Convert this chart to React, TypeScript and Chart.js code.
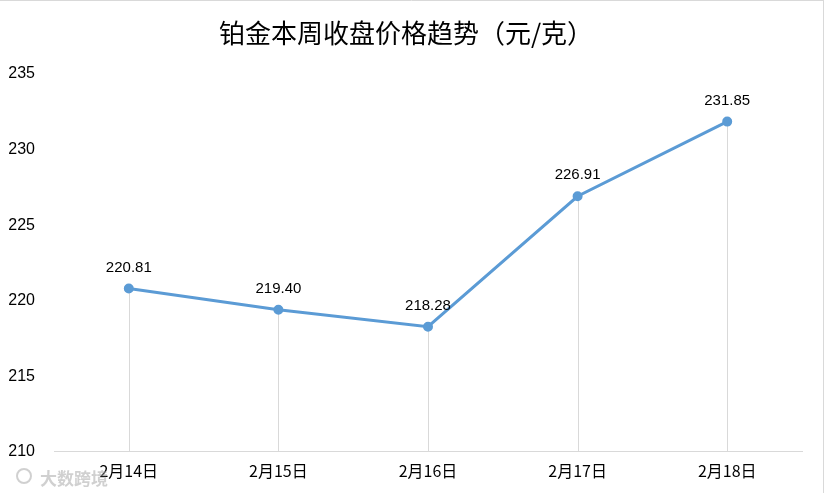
import React, { useEffect, useRef } from "react";
import { Chart, registerables } from "chart.js";

Chart.register(...registerables);

const title = "铂金本周收盘价格趋势（元/克）";
const categories = ["2月14日", "2月15日", "2月16日", "2月17日", "2月18日"];
const prices = [220.81, 219.4, 218.28, 226.91, 231.85];
const yMin = 210;
const yMax = 235;
const yStep = 5;
const watermark = "大数跨境";

const numFont = "'Liberation Sans', 'Noto Sans CJK SC', sans-serif";
const cjkFont = "'Noto Sans CJK SC', 'Liberation Sans', sans-serif";

const decorPlugin = {
  id: "decor",
  beforeDatasetsDraw(chart: any) {
    const { ctx, scales } = chart;
    const meta = chart.getDatasetMeta(0);
    const bottom = scales.y.getPixelForValue(yMin);
    ctx.save();
    ctx.strokeStyle = "#d9d9d9";
    ctx.lineWidth = 1;
    meta.data.forEach((pt: any) => {
      const x = Math.round(pt.x) + 0.5;
      ctx.beginPath();
      ctx.moveTo(x, pt.y);
      ctx.lineTo(x, bottom);
      ctx.stroke();
    });
    ctx.restore();
  },
  afterDatasetsDraw(chart: any) {
    const { ctx } = chart;
    const meta = chart.getDatasetMeta(0);
    ctx.save();
    ctx.fillStyle = "#000000";
    ctx.font = `15px ${numFont}`;
    ctx.textAlign = "center";
    ctx.textBaseline = "middle";
    meta.data.forEach((pt: any, i: number) => {
      ctx.fillText(prices[i].toFixed(2), pt.x, pt.y - 21);
    });
    ctx.restore();
  },
  afterDraw(chart: any) {
    const { ctx, height } = chart;
    ctx.save();
    // title
    ctx.fillStyle = "#000000";
    ctx.font = `26px ${cjkFont}`;
    ctx.textAlign = "center";
    ctx.textBaseline = "middle";
    ctx.fillText(title, 406, 33);
    // border
    ctx.strokeStyle = "#d9d9d9";
    ctx.lineWidth = 1;
    ctx.beginPath();
    ctx.moveTo(0, 0.5);
    ctx.lineTo(823, 0.5);
    ctx.moveTo(823.5, 0);
    ctx.lineTo(823.5, height);
    ctx.stroke();
    // watermark
    ctx.fillStyle = "rgba(170,170,170,0.55)";
    ctx.font = `bold 17px ${cjkFont}`;
    ctx.textAlign = "left";
    ctx.fillText(watermark, 40, 479);
    ctx.strokeStyle = "rgba(170,170,170,0.55)";
    ctx.lineWidth = 2;
    ctx.beginPath();
    ctx.arc(24, 476, 7, 0, Math.PI * 2);
    ctx.stroke();
    ctx.restore();
  },
};

export default function App() {
  const ref = useRef<HTMLCanvasElement>(null);
  useEffect(() => {
    if (!ref.current) return;
    const chart = new Chart(ref.current, {
      type: "line",
      data: {
        labels: categories,
        datasets: [
          {
            data: prices,
            borderColor: "#5b9bd5",
            backgroundColor: "#5b9bd5",
            borderWidth: 3,
            pointRadius: 3.5,
            pointHoverRadius: 3.5,
            tension: 0,
          },
        ],
      },
      options: {
        responsive: false,
        animation: false,
        layout: { padding: { left: 8, right: 23, top: 74, bottom: 10 } },
        plugins: {
          legend: { display: false },
          title: { display: false },
          tooltip: { enabled: false },
        },
        scales: {
          x: {
            offset: true,
            grid: { display: false },
            border: { display: true, color: "#d9d9d9", width: 1 },
            ticks: {
              color: "#000000",
              font: { size: 16, family: cjkFont },
              padding: 2,
              maxRotation: 0,
            },
          },
          y: {
            min: yMin,
            max: yMax,
            grid: { display: false, drawTicks: false },
            border: { display: false },
            afterFit: (scale: any) => {
              scale.width = 46;
            },
            ticks: {
              stepSize: yStep,
              color: "#000000",
              font: { size: 16, family: numFont },
              padding: 19,
            },
          },
        },
      },
      plugins: [decorPlugin],
    });
    return () => chart.destroy();
  }, []);
  return (
    <div style={{ position: "fixed", left: 0, top: 0, width: 825, height: 493, background: "#fff" }}>
      <canvas ref={ref} width={825} height={493} style={{ width: 825, height: 493 }} />
    </div>
  );
}
